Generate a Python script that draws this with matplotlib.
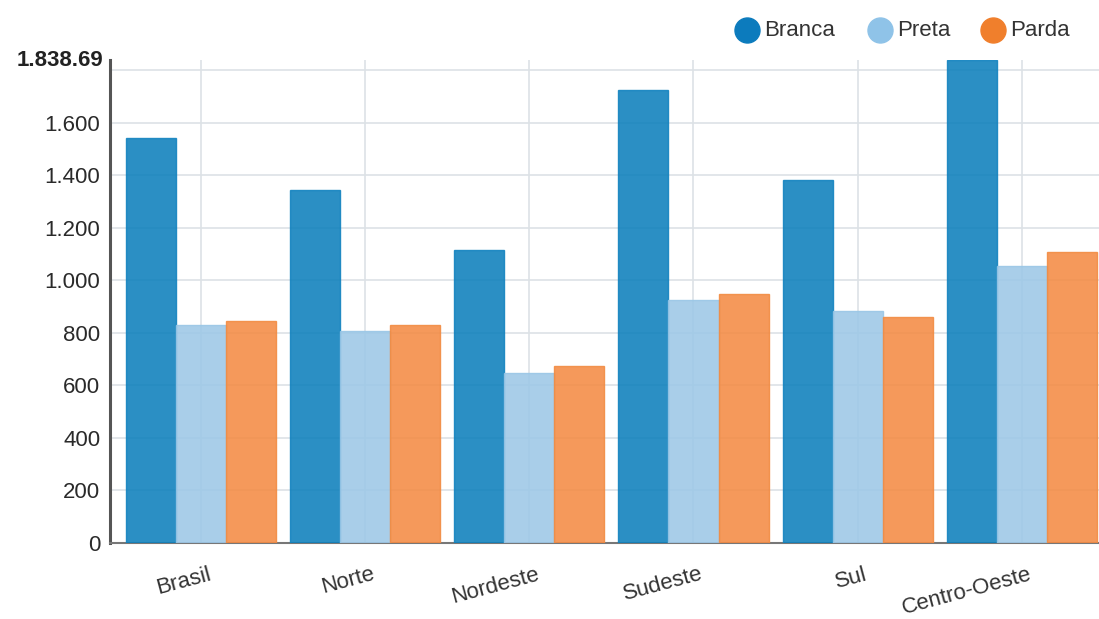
import matplotlib
matplotlib.use("Agg")
import matplotlib.pyplot as plt
from matplotlib.lines import Line2D
import numpy as np

plt.rcParams['font.family'] = ['Liberation Sans', 'DejaVu Sans']

regions = ["Brasil", "Norte", "Nordeste", "Sudeste", "Sul", "Centro-Oeste"]
branca = [1540, 1344, 1115, 1726, 1382, 1838.69]
preta = [831, 808, 649, 924, 885, 1054]
parda = [847, 831, 672, 948, 862, 1108]
series_names = ["Branca", "Preta", "Parda"]
y_max = 1838.69
y_ticks = [0, 200, 400, 600, 800, 1000, 1200, 1400, 1600, 1800]

legend_colors = ["#0c7bbd", "#8fc3e8", "#f07f2c"]
bar_colors = ["#0d80bc", "#9dc8e7", "#f48b44"]
edge_colors = ["#1182bf", "#98c6e6", "#f28a40"]


def fmt_thousands(v):
    return f"{int(v):,}".replace(",", ".")


W, H = 1099, 619
fig = plt.figure(figsize=(W / 100, H / 100), dpi=100)
ax = fig.add_axes([110 / W, 1 - 543 / H, (W - 110) / W, (543 - 60) / H])

x = np.arange(len(regions))
bw = 0.305
for k, vals in enumerate([branca, preta, parda]):
    ax.bar(x + (k - 1) * bw, vals, width=bw, color=bar_colors[k], alpha=0.88,
           edgecolor=edge_colors[k], linewidth=1.0, zorder=3)

ax.set_xlim(-0.554, 5.47)
ax.set_ylim(0, y_max)

ax.set_yticks(y_ticks)
ax.set_yticklabels([fmt_thousands(v) if v < 1800 else "" for v in y_ticks],
                   fontsize=16, color="#2a2a2a")
ax.set_xticks(x)
ax.set_xticklabels([])
ax.tick_params(axis="both", length=0, pad=7)
ax.grid(True, color="#dde2e6", linewidth=1.2, zorder=0)
ax.set_axisbelow(True)

# maximum value label at the top of the value axis
ax.text(-0.007, y_max, fmt_thousands(1838) + ".69", transform=ax.get_yaxis_transform(),
        ha="right", va="center", fontsize=16, fontweight="bold", color="#222222")

for s in ["top", "right"]:
    ax.spines[s].set_visible(False)
ax.spines["left"].set_color("#555555")
ax.spines["left"].set_linewidth(2.2)
ax.spines["bottom"].set_color("#777777")
ax.spines["bottom"].set_linewidth(1.5)

# rotated category labels
for xi, name in zip(x, regions):
    ax.annotate(name, xy=(xi + 0.04, 0), xycoords=("data", "axes fraction"),
                xytext=(0, -15), textcoords="offset points",
                ha="right", va="top", rotation=15, rotation_mode="anchor",
                fontsize=16, color="#333333")

# legend: round markers with labels, top right
legend_x = [747, 880, 993]
legend_y = 30
for lx, name, col in zip(legend_x, series_names, legend_colors):
    fig.add_artist(Line2D([lx / W], [1 - legend_y / H], marker="o", markersize=18,
                          markerfacecolor=col, markeredgecolor=col,
                          linestyle="none", transform=fig.transFigure))
    fig.text((lx + 17) / W, 1 - legend_y / H, name, ha="left", va="center",
             fontsize=16, color="#333333")

fig.savefig("out.png", dpi=100)
